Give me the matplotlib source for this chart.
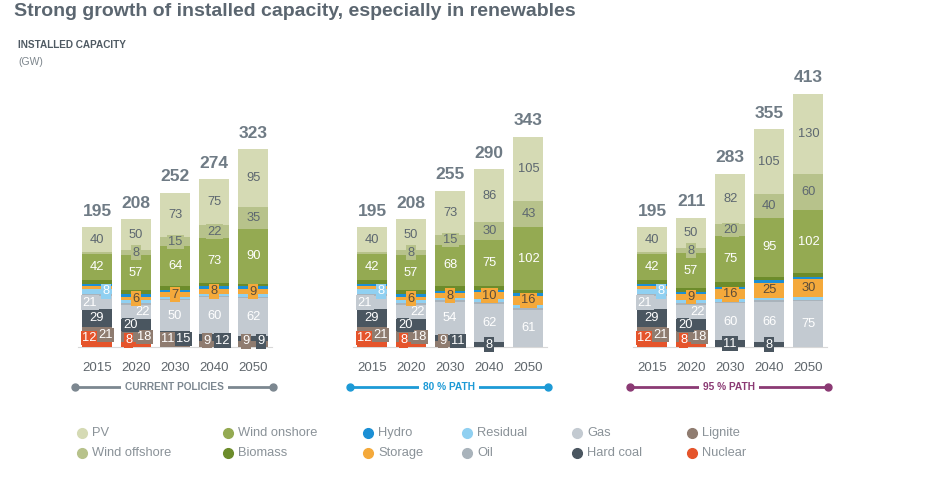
import matplotlib
matplotlib.use("Agg")
import matplotlib.pyplot as plt
from matplotlib import font_manager as fm

# ---- data (GW); each list = 5 years x 3 scenarios (current policies, 80 % path, 95 % path)
years = ["2015", "2020", "2030", "2040", "2050"]
scenarios = ["CURRENT POLICIES", "80 % PATH", "95 % PATH"]

nuclear       = [12, 8, 0, 0, 0,     12, 8, 0, 0, 0,      12, 8, 0, 0, 0]
lignite       = [21, 18, 11, 9, 9,   21, 18, 9, 0, 0,     21, 18, 0, 0, 0]
hard_coal     = [29, 20, 15, 12, 9,  29, 20, 11, 8, 0,    29, 20, 11, 8, 0]
gas           = [21, 22, 50, 60, 62, 21, 22, 54, 62, 61,  21, 22, 60, 66, 75]
oil           = [4, 4, 2, 2, 2,      4, 4, 2, 4, 3,       4, 4, 3, 2, 2]
residual      = [8, 4, 4, 4, 4,      8, 4, 4, 5, 4,       8, 5, 4, 4, 4]
storage       = [4, 6, 7, 8, 9,      4, 6, 8, 10, 16,     4, 9, 16, 25, 30]
hydro         = [4, 4, 4, 4, 4,      4, 4, 4, 4, 4,       4, 4, 4, 4, 4]
biomass       = [7, 7, 7, 5, 4,      7, 7, 7, 6, 5,       7, 6, 8, 6, 6]
wind_onshore  = [42, 57, 64, 73, 90, 42, 57, 68, 75, 102, 42, 57, 75, 95, 102]
wind_offshore = [3, 8, 15, 22, 35,   3, 8, 15, 30, 43,    3, 8, 20, 40, 60]
pv            = [40, 50, 73, 75, 95, 40, 50, 73, 86, 105, 40, 50, 82, 105, 130]

# stack order, bottom -> top
stack = [("Nuclear", nuclear), ("Lignite", lignite), ("Hard coal", hard_coal), ("Gas", gas),
         ("Oil", oil), ("Residual", residual), ("Storage", storage), ("Hydro", hydro),
         ("Biomass", biomass), ("Wind onshore", wind_onshore), ("Wind offshore", wind_offshore), ("PV", pv)]

COLORS = {"PV": "#d5dab4", "Wind offshore": "#b7c28b", "Wind onshore": "#94aa52", "Biomass": "#6c8c2b",
          "Hydro": "#1b8fd5", "Storage": "#f4a93b", "Residual": "#90d0f1", "Oil": "#a9b3bb",
          "Gas": "#c3cad1", "Hard coal": "#4a5660", "Lignite": "#8f7c70", "Nuclear": "#e5542b"}
TXT = {"PV": "#5d6770", "Wind offshore": "#5d6770", "Storage": "#5a4c3a"}
LABEL_MIN = {"Nuclear": 1, "Lignite": 1, "Hard coal": 1, "Gas": 1, "Residual": 6, "Storage": 5,
             "Wind onshore": 1, "Wind offshore": 5, "PV": 1}
LINE_COL = ["#7c8790", "#1d9ad6", "#8b3a74"]
legend_cols = [["PV", "Wind offshore"], ["Wind onshore", "Biomass"], ["Hydro", "Storage"],
               ["Residual", "Oil"], ["Gas", "Hard coal"], ["Lignite", "Nuclear"]]

names = {f.name for f in fm.fontManager.ttflist}
NARROW = "Liberation Sans Narrow" if "Liberation Sans Narrow" in names else "Liberation Sans"
plt.rcParams["font.family"] = "Liberation Sans"

# ---- layout (pixels)
W, H = 940, 486
BASE, SCALE = 347, 0.613          # baseline row, px per GW
GROUP_X, STEP, BAR_W = [97, 372, 652], 39.1, 30


def py(row):
    return (BASE - row) / SCALE


fig = plt.figure(figsize=(9.4, 4.86), dpi=100)
ax = fig.add_axes([0, 0, 1, 1])
ax.set_xlim(0, W); ax.set_ylim(py(H), py(0)); ax.axis("off")

fig.text(14 / W, 1 - 12 / H, "Strong growth of installed capacity, especially in renewables",
         fontsize=14, fontweight="bold", color="#5b6670", va="center")
fig.text(18 / W, 1 - 45 / H, "INSTALLED CAPACITY", fontsize=7.2, fontweight="bold", color="#4f5a63",
         va="center", family=NARROW)
fig.text(18 / W, 1 - 62 / H, "(GW)", fontsize=7.5, color="#7d868d", va="center", family=NARROW)


def seg_label(x, y, val, cat):
    ax.text(x, y, str(val), ha="center", va="center", fontsize=9.3, family=NARROW,
            color=TXT.get(cat, "white"),
            bbox=dict(boxstyle="square,pad=0.1", fc=COLORS[cat], ec="none"))


for s in range(3):
    x0 = GROUP_X[s]
    ax.plot([x0 - BAR_W / 2 - 4, x0 + 4 * STEP + BAR_W / 2 + 4], [0, 0], color="#d8d8d8", lw=0.8, zorder=1)
    for i, yr in enumerate(years):
        k = s * 5 + i
        x = x0 + i * STEP
        v = {c: vals[k] for c, vals in stack}
        b = {}
        bottom = 0
        for c, vals in stack:
            b[c] = bottom
            if vals[k]:
                ax.bar(x, vals[k], BAR_W, bottom=bottom, color=COLORS[c], linewidth=0, zorder=2)
            bottom += vals[k]
        total = bottom
        # label positions
        pos = {c: [x, b[c] + v[c] / 2] for c in v}
        res_lab = v["Residual"] >= LABEL_MIN["Residual"]
        if v["Nuclear"]:
            yy = (v["Nuclear"] + v["Lignite"]) / 2
            pos["Nuclear"] = [x - 7.5, yy - 2]; pos["Lignite"] = [x + 8.5, yy + 3]
            if not res_lab:
                pos["Hard coal"][0] = x - 6; pos["Gas"][0] = x + 6
        elif v["Lignite"]:
            yy = (v["Lignite"] + v["Hard coal"]) / 2
            pos["Lignite"] = [x - 7.5, yy]; pos["Hard coal"] = [x + 8, yy]
        if res_lab:
            pos["Gas"][0] = x - 7; pos["Residual"][0] = x + 9
        for c, m in LABEL_MIN.items():
            if v[c] >= m:
                seg_label(pos[c][0], pos[c][1], v[c], c)
        ax.text(x, total + 16 / SCALE, str(total), ha="center", va="center", fontsize=12.5,
                fontweight="bold", color="#6f7b85")
        ax.text(x, py(368), yr, ha="center", va="center", fontsize=9.5, family=NARROW, color="#5f666c")
    # scenario line
    xa, xb = x0 - 22, x0 + 4 * STEP + 20
    ax.plot([xa, xb], [py(387)] * 2, color=LINE_COL[s], lw=2, solid_capstyle="round")
    ax.plot([xa, xb], [py(387)] * 2, "o", color=LINE_COL[s], ms=5)
    ax.text((xa + xb) / 2, py(387), scenarios[s], ha="center", va="center", fontsize=7.3,
            fontweight="bold", family=NARROW, color=LINE_COL[s],
            bbox=dict(boxstyle="square,pad=0.4", fc="white", ec="none"))

# legend
for cx, col in zip([82, 228, 368, 467, 577, 692], legend_cols):
    for cy, cat in zip([433, 453], col):
        ax.plot(cx, py(cy), "o", color=COLORS[cat], ms=7)
        ax.text(cx + 10, py(cy), cat, va="center", ha="left", fontsize=9.3, family=NARROW, color="#8a9298")

fig.savefig("out.png", dpi=100)
